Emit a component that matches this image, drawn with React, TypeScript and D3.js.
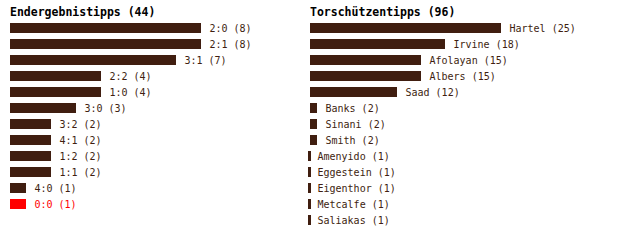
import React from "react";
import * as d3 from "d3";

const leftTitle = "Endergebnistipps (44)";
const leftLabels = ["2:0", "2:1", "3:1", "2:2", "1:0", "3:0", "3:2", "4:1", "1:2", "1:1", "4:0", "0:0"];
const leftValues = [8, 8, 7, 4, 4, 3, 2, 2, 2, 2, 1, 1];
const leftHighlight = ["0:0"];

const rightTitle = "Torschützentipps (96)";
const rightLabels = ["Hartel", "Irvine", "Afolayan", "Albers", "Saad", "Banks", "Sinani", "Smith", "Amenyido", "Eggestein", "Eigenthor", "Metcalfe", "Saliakas"];
const rightValues = [25, 18, 15, 15, 12, 2, 2, 2, 1, 1, 1, 1, 1];

const BAR = "#401e10";
const RED = "#ff0000";
const FONT = "'DejaVu Sans Mono', monospace";

function Panel({ x0, title, labels, values, highlight }: { x0: number; title: string; labels: string[]; values: number[]; highlight: string[] }) {
  const max = d3.max(values) as number;
  const x = d3.scaleLinear().domain([0, max]).range([0, 200]);
  const y = d3
    .scaleBand<number>()
    .domain(d3.range(labels.length))
    .range([20, 20 + 16 * labels.length])
    .paddingInner(0.375)
    .paddingOuter(0.1875);
  return (
    <g transform={`translate(${x0},0)`}>
      <text x={0} y={16} fontFamily={FONT} fontWeight="bold" fontSize={11.5} fill="#000">{title}</text>
      {labels.map((lab, i) => {
        const w = x(values[i]) - 9;
        const color = highlight.includes(lab) ? RED : BAR;
        const by = y(i) as number;
        const bx = w > 0 ? 0 : w - 1;
        const bw = w > 0 ? w : 3;
        return (
          <g key={lab}>
            <rect x={bx} y={by} width={bw} height={y.bandwidth()} fill={color} />
            <text x={w + 8.5} y={by + 9} fontFamily={FONT} fontSize={10} fill={color}>{`${lab} (${values[i]})`}</text>
          </g>
        );
      })}
    </g>
  );
}

export default function App() {
  return (
    <svg width={620} height={240} style={{ position: "absolute", left: 0, top: 0, background: "#fff" }}>
      <Panel x0={10} title={leftTitle} labels={leftLabels} values={leftValues} highlight={leftHighlight} />
      <Panel x0={310} title={rightTitle} labels={rightLabels} values={rightValues} highlight={[]} />
    </svg>
  );
}
